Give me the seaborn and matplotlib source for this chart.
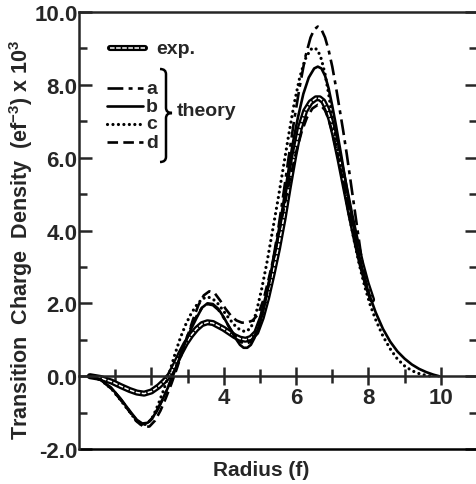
import seaborn as sns
import matplotlib.pyplot as plt
import numpy as np
from matplotlib.path import Path
from matplotlib.patches import PathPatch

sns.set_style('ticks')
plt.rcParams['font.family'] = ['Liberation Sans', 'DejaVu Sans']
plt.rcParams['font.weight'] = 'bold'
plt.rcParams['mathtext.fontset'] = 'custom'
plt.rcParams['mathtext.rm'] = 'Liberation Sans:bold'
plt.rcParams['mathtext.default'] = 'rm'

# values: radius (f), density (ef^-3 x 10^3)
exp_x = [0.3, 0.6, 0.9, 1.15, 1.4, 1.6, 1.8, 2.0, 2.2, 2.35, 2.5, 2.65, 2.8, 2.95, 3.1,
         3.25, 3.4, 3.55, 3.7, 3.85, 4.0, 4.15, 4.3, 4.45, 4.6, 4.75, 4.9, 5.05, 5.2, 5.35,
         5.5, 5.65, 5.8, 5.95, 6.1, 6.25, 6.4, 6.55, 6.65, 6.75, 6.85, 6.95, 7.05, 7.2,
         7.35, 7.5, 7.65, 7.8, 7.95, 8.1]
exp_y = [0, -0.05, -0.15, -0.27, -0.38, -0.45, -0.48, -0.42, -0.28, -0.14, 0.02, 0.3, 0.62,
         0.9, 1.12, 1.3, 1.43, 1.48, 1.46, 1.38, 1.3, 1.2, 1.1, 1.03, 1.0, 1.05, 1.2, 1.6,
         2.15, 2.8, 3.5, 4.3, 5.2, 6.05, 6.8, 7.28, 7.52, 7.63, 7.63, 7.55, 7.35, 7.05, 6.65,
         5.95, 5.2, 4.45, 3.75, 3.1, 2.55, 2.1]

a_x = [0.3, 0.6, 0.9, 1.15, 1.4, 1.6, 1.75, 1.9, 2.05, 2.2, 2.35, 2.5, 2.65, 2.8, 2.95,
       3.1, 3.25, 3.4, 3.55, 3.7, 3.85, 4.0, 4.15, 4.3, 4.45, 4.6, 4.75, 4.9, 5.05, 5.2,
       5.35, 5.5, 5.65, 5.8, 5.95, 6.1, 6.25, 6.4, 6.5, 6.6, 6.7, 6.8, 6.9, 7.0, 7.1, 7.2,
       7.3, 7.4, 7.5, 7.6, 7.7, 7.8, 7.9, 8.0]
a_y = [0, -0.1, -0.33, -0.63, -0.96, -1.22, -1.32, -1.3, -1.14, -0.87, -0.56, -0.2, 0.18,
       0.6, 1.0, 1.35, 1.65, 1.88, 1.98, 1.95, 1.82, 1.6, 1.35, 1.12, 0.95, 0.88, 0.95, 1.2,
       1.65, 2.3, 3.1, 4.0, 5.0, 6.05, 7.05, 7.95, 8.75, 9.3, 9.52, 9.6, 9.52, 9.3, 8.95,
       8.5, 7.95, 7.35, 6.75, 6.1, 5.4, 4.7, 4.0, 3.3, 2.7, 2.3]

b_x = [0.3, 0.6, 0.9, 1.15, 1.4, 1.6, 1.75, 1.9, 2.05, 2.2, 2.35, 2.5, 2.65, 2.8, 2.95,
       3.1, 3.25, 3.4, 3.55, 3.7, 3.85, 4.0, 4.15, 4.3, 4.45, 4.55, 4.65, 4.75, 4.85, 5.0,
       5.15, 5.3, 5.45, 5.6, 5.75, 5.9, 6.05, 6.2, 6.35, 6.5, 6.6, 6.7, 6.8, 6.9, 7.0, 7.1,
       7.25, 7.4, 7.55, 7.7, 7.85, 8.0, 8.2, 8.4, 8.6, 8.8, 9.0, 9.2, 9.4, 9.6, 9.8, 9.95]
b_y = [0, -0.1, -0.33, -0.62, -0.95, -1.2, -1.3, -1.28, -1.12, -0.85, -0.55, -0.22, 0.15,
       0.55, 0.96, 1.3, 1.6, 1.88, 2.0, 1.98, 1.85, 1.62, 1.35, 1.08, 0.86, 0.78, 0.78, 0.86,
       1.05, 1.45, 2.05, 2.8, 3.6, 4.45, 5.4, 6.35, 7.1, 7.75, 8.2, 8.45, 8.5, 8.45, 8.25,
       7.9, 7.42, 6.9, 6.05, 5.15, 4.3, 3.5, 2.85, 2.3, 1.75, 1.3, 0.95, 0.68, 0.48, 0.32,
       0.2, 0.11, 0.04, 0]

c_x = [0.3, 0.6, 0.9, 1.15, 1.4, 1.6, 1.75, 1.9, 2.05, 2.2, 2.35, 2.5, 2.65, 2.8, 2.95,
       3.1, 3.25, 3.4, 3.55, 3.7, 3.85, 4.0, 4.15, 4.3, 4.45, 4.6, 4.75, 4.9, 5.05, 5.2,
       5.35, 5.5, 5.65, 5.8, 5.95, 6.1, 6.25, 6.4, 6.5, 6.6, 6.7, 6.8, 6.9, 7.0, 7.15, 7.3,
       7.45, 7.6, 7.75, 7.9, 8.05, 8.2, 8.4, 8.6, 8.8, 9.0, 9.2, 9.4, 9.6, 9.75]
c_y = [0, -0.1, -0.35, -0.66, -0.98, -1.25, -1.35, -1.3, -1.1, -0.75, -0.35, 0.1, 0.6,
       1.05, 1.42, 1.72, 1.95, 2.12, 2.18, 2.12, 1.98, 1.78, 1.58, 1.4, 1.27, 1.22, 1.32,
       1.75, 2.4, 3.15, 4.0, 4.85, 5.75, 6.65, 7.5, 8.2, 8.7, 8.97, 9.02, 8.95, 8.7, 8.3,
       7.75, 7.1, 6.2, 5.35, 4.5, 3.75, 3.05, 2.45, 1.95, 1.55, 1.1, 0.75, 0.47, 0.28, 0.15,
       0.07, 0.02, 0]

d_x = [0.3, 0.6, 0.9, 1.15, 1.4, 1.6, 1.8, 1.95, 2.1, 2.25, 2.4, 2.55, 2.7, 2.85, 3.0,
       3.15, 3.3, 3.45, 3.6, 3.75, 3.9, 4.05, 4.2, 4.35, 4.5, 4.65, 4.8, 4.95, 5.1, 5.25,
       5.4, 5.55, 5.7, 5.85, 6.0, 6.15, 6.3, 6.45, 6.6, 6.7, 6.8, 6.9, 7.0, 7.15, 7.3,
       7.45, 7.6, 7.75, 7.9, 8.05]
d_y = [0, -0.1, -0.35, -0.65, -0.98, -1.25, -1.4, -1.38, -1.22, -0.95, -0.6, -0.22, 0.2,
       0.65, 1.1, 1.55, 1.95, 2.22, 2.33, 2.28, 2.08, 1.85, 1.66, 1.53, 1.47, 1.47, 1.53,
       1.7, 2.1, 2.7, 3.35, 4.05, 4.8, 5.5, 6.15, 6.7, 7.1, 7.35, 7.45, 7.42, 7.3, 7.05,
       6.7, 6.05, 5.35, 4.6, 3.9, 3.2, 2.6, 2.15]

styles = {'a': (0, (6, 2, 1.5, 2)), 'b': '-', 'c': (0, (0.01, 1.7)), 'd': (0, (4, 2))}
widths = {'a': 1.9, 'b': 1.9, 'c': 2.3, 'd': 1.9}

fig = plt.figure(figsize=(4.76, 4.85), dpi=100)
ax = fig.add_axes([79 / 476, 35 / 485, 398 / 476, 437 / 485])

# exp. drawn as a hollow double line
sns.lineplot(x=exp_x, y=exp_y, ax=ax, color='black', lw=4.4, sort=False)
sns.lineplot(x=exp_x, y=exp_y, ax=ax, color='white', lw=1.1, linestyle=(0, (3, 1)), sort=False)
for k, (xs, ys) in {'a': (a_x, a_y), 'b': (b_x, b_y), 'c': (c_x, c_y), 'd': (d_x, d_y)}.items():
    sns.lineplot(x=xs, y=ys, ax=ax, color='black', lw=widths[k], linestyle=styles[k],
                 dash_capstyle='round' if k == 'c' else 'butt', sort=False)

ax.set_xlim(0, 11)
ax.set_ylim(-2, 10)

for s in ['left', 'top', 'bottom']:
    ax.spines[s].set_linewidth(1.8)
ax.spines['right'].set_visible(False)
ax.spines['bottom'].set_position(('data', 0))
ax.axhline(-2, color='black', lw=1.8, clip_on=False)

ax.set_yticks(np.arange(-2, 10.1, 2))
ax.set_yticks(np.arange(-1, 10, 2), minor=True)
ax.set_yticklabels(['-2.0', '0.0', '2.0', '4.0', '6.0', '8.0', '10.0'], fontsize=16, fontweight='bold')
ax.tick_params(axis='y', which='major', direction='in', length=9, width=1.8, right=True, pad=1)
ax.tick_params(axis='y', which='minor', direction='in', length=6, width=1.8, right=True)

ax.set_xticks(np.arange(2, 10.1, 2))
ax.set_xticks(np.arange(1, 10, 2), minor=True)
ax.set_xticklabels(['', '4', '6', '8', '10'], fontsize=16, fontweight='bold')
ax.tick_params(axis='x', which='major', direction='inout', length=13, width=1.8, pad=1)
ax.tick_params(axis='x', which='minor', direction='inout', length=10, width=1.8)

ax.set_xlabel('')
ax.set_ylabel('')
ax.text(0.457, -0.048, 'Radius (f)', transform=ax.transAxes, ha='center', va='center',
        fontsize=15, fontweight='bold')
fig.text(21 / 476, 0.505, 'Transition  Charge  Density  (ef$^{-3}$) x 10$^3$',
         rotation=90, ha='center', va='center', fontsize=15.5, fontweight='bold')

# legend block
def fx(px):
    return (px - 79) / 398

def fy(py):
    return (450 - py) / 437

ax.plot([fx(110), fx(145)], [fy(49), fy(49)], transform=ax.transAxes, color='black', lw=4.4)
ax.plot([fx(110), fx(145)], [fy(49), fy(49)], transform=ax.transAxes, color='white', lw=1.1,
        linestyle=(0, (3, 1)))
ax.text(fx(156), fy(49), 'exp.', transform=ax.transAxes, va='center', fontsize=14, fontweight='bold')
for k, py in zip('abcd', [89, 107, 125, 143]):
    ax.plot([fx(107), fx(143)], [fy(py), fy(py)], transform=ax.transAxes, color='black',
            lw=widths[k], linestyle=styles[k], dash_capstyle='round' if k == 'c' else 'butt')
    ax.text(fx(146), fy(py), k, transform=ax.transAxes, va='center', fontsize=14, fontweight='bold')

# brace
x0, x1, xm = fx(160), fx(166), fx(172)
yt, yb, ym = fy(70), fy(163), fy(114)
r = 0.012
verts = [(x0, yt), (x1, yt), (x1, yt - r), (x1, ym + r), (x1, ym), (xm, ym),
         (x1, ym), (x1, ym - r), (x1, yb + r), (x1, yb), (x0, yb)]
codes = [Path.MOVETO, Path.CURVE3, Path.CURVE3, Path.LINETO, Path.CURVE3, Path.CURVE3,
         Path.CURVE3, Path.CURVE3, Path.LINETO, Path.CURVE3, Path.CURVE3]
ax.add_patch(PathPatch(Path(verts, codes), transform=ax.transAxes, fill=False, lw=1.8,
                       edgecolor='black'))
ax.text(fx(177), fy(112), 'theory', transform=ax.transAxes, va='center', fontsize=14,
        fontweight='bold')

fig.savefig('out.png', dpi=100)
